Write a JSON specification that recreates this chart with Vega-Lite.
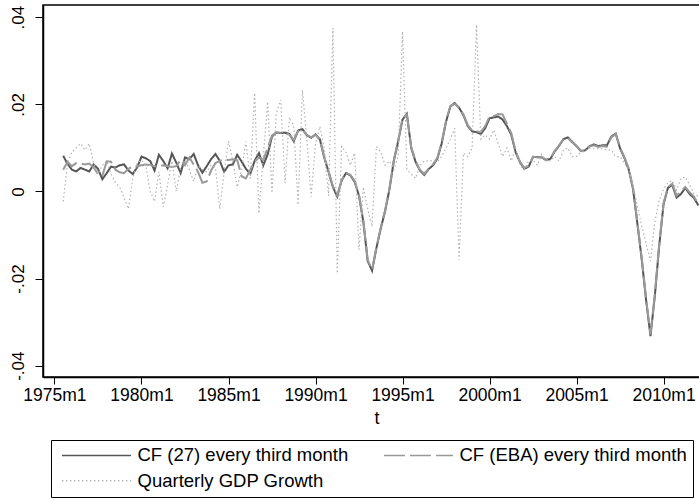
{
"$schema": "https://vega.github.io/schema/vega-lite/v6.json",
"width": 667, "height": 372,
"autosize": {"type": "none"},
"padding": {"left": 43, "top": 5, "right": 0, "bottom": 123},
"background": "white",
"config": {
  "font": "Liberation Sans",
  "view": {"stroke": "black", "strokeWidth": 1.5},
  "axis": {"grid": false, "domainColor": "black", "domainWidth": 1.5, "tickColor": "black", "tickWidth": 1, "labelColor": "black", "titleColor": "black", "labelFont": "Liberation Sans", "titleFont": "Liberation Sans", "titleFontWeight": "normal"}
},
"data": {"values": [
{"t":1975.5,"cf27":0.0082,"eba":0.0050,"gdp":-0.0023},
{"t":1975.75,"cf27":0.0063,"eba":0.0068,"gdp":0.0065},
{"t":1976,"cf27":0.0050,"eba":0.0058,"gdp":0.0090},
{"t":1976.25,"cf27":0.0046,"eba":0.0065,"gdp":0.0100},
{"t":1976.5,"cf27":0.0054,"eba":0.0064,"gdp":0.0110},
{"t":1976.75,"cf27":0.0050,"eba":0.0062,"gdp":0.0095},
{"t":1977,"cf27":0.0046,"eba":0.0064,"gdp":0.0110},
{"t":1977.25,"cf27":0.0062,"eba":0.0055,"gdp":0.0065},
{"t":1977.5,"cf27":0.0052,"eba":0.0040,"gdp":0.0040},
{"t":1977.75,"cf27":0.0028,"eba":0.0036,"gdp":0.0060},
{"t":1978,"cf27":0.0042,"eba":0.0069,"gdp":0.0070},
{"t":1978.25,"cf27":0.0057,"eba":0.0068,"gdp":0.0040},
{"t":1978.5,"cf27":0.0055,"eba":0.0050,"gdp":0.0020},
{"t":1978.75,"cf27":0.0060,"eba":0.0044,"gdp":0.0010},
{"t":1979,"cf27":0.0062,"eba":0.0042,"gdp":-0.0015},
{"t":1979.25,"cf27":0.0048,"eba":0.0052,"gdp":-0.0040},
{"t":1979.5,"cf27":0.0040,"eba":0.0058,"gdp":0.0030},
{"t":1979.75,"cf27":0.0055,"eba":0.0058,"gdp":0.0065},
{"t":1980,"cf27":0.0080,"eba":0.0060,"gdp":0.0072},
{"t":1980.25,"cf27":0.0076,"eba":0.0062,"gdp":0.0060},
{"t":1980.5,"cf27":0.0070,"eba":0.0061,"gdp":0.0000},
{"t":1980.75,"cf27":0.0048,"eba":0.0058,"gdp":-0.0023},
{"t":1981,"cf27":0.0084,"eba":0.0058,"gdp":0.0045},
{"t":1981.25,"cf27":0.0070,"eba":0.0060,"gdp":-0.0035},
{"t":1981.5,"cf27":0.0053,"eba":0.0058,"gdp":0.0015},
{"t":1981.75,"cf27":0.0087,"eba":0.0056,"gdp":0.0070},
{"t":1982,"cf27":0.0066,"eba":0.0058,"gdp":0.0000},
{"t":1982.25,"cf27":0.0042,"eba":0.0072,"gdp":0.0055},
{"t":1982.5,"cf27":0.0078,"eba":0.0060,"gdp":0.0072},
{"t":1982.75,"cf27":0.0074,"eba":0.0078,"gdp":0.0050},
{"t":1983,"cf27":0.0086,"eba":0.0062,"gdp":0.0023},
{"t":1983.25,"cf27":0.0060,"eba":0.0045,"gdp":0.0060},
{"t":1983.5,"cf27":0.0043,"eba":0.0020,"gdp":0.0050},
{"t":1983.75,"cf27":0.0058,"eba":0.0023,"gdp":0.0045},
{"t":1984,"cf27":0.0074,"eba":0.0048,"gdp":0.0060},
{"t":1984.25,"cf27":0.0086,"eba":0.0065,"gdp":0.0055},
{"t":1984.5,"cf27":0.0070,"eba":0.0070,"gdp":-0.0040},
{"t":1984.75,"cf27":0.0045,"eba":0.0074,"gdp":0.0045},
{"t":1985,"cf27":0.0060,"eba":0.0072,"gdp":0.0115},
{"t":1985.25,"cf27":0.0062,"eba":0.0074,"gdp":0.0070},
{"t":1985.5,"cf27":0.0084,"eba":0.0072,"gdp":0.0010},
{"t":1985.75,"cf27":0.0069,"eba":0.0035,"gdp":0.0050},
{"t":1986,"cf27":0.0052,"eba":0.0030,"gdp":0.0114},
{"t":1986.25,"cf27":0.0040,"eba":0.0050,"gdp":0.0030},
{"t":1986.5,"cf27":0.0070,"eba":0.0068,"gdp":0.0226},
{"t":1986.75,"cf27":0.0088,"eba":0.0078,"gdp":-0.0050},
{"t":1987,"cf27":0.0060,"eba":0.0072,"gdp":0.0080},
{"t":1987.25,"cf27":0.0085,"eba":0.0100,"gdp":0.0206},
{"t":1987.5,"cf27":0.0126,"eba":0.0128,"gdp":-0.0004},
{"t":1987.75,"cf27":0.0135,"eba":0.0136,"gdp":0.0180},
{"t":1988,"cf27":0.0134,"eba":0.0135,"gdp":0.0210},
{"t":1988.25,"cf27":0.0135,"eba":0.0134,"gdp":0.0019},
{"t":1988.5,"cf27":0.0132,"eba":0.0130,"gdp":0.0170},
{"t":1988.75,"cf27":0.0115,"eba":0.0118,"gdp":0.0150},
{"t":1989,"cf27":0.0140,"eba":0.0138,"gdp":-0.0031},
{"t":1989.25,"cf27":0.0143,"eba":0.0141,"gdp":0.0233},
{"t":1989.5,"cf27":0.0129,"eba":0.0130,"gdp":0.0120},
{"t":1989.75,"cf27":0.0123,"eba":0.0124,"gdp":-0.0012},
{"t":1990,"cf27":0.0131,"eba":0.0130,"gdp":0.0110},
{"t":1990.25,"cf27":0.0120,"eba":0.0118,"gdp":0.0149},
{"t":1990.5,"cf27":0.0078,"eba":0.0080,"gdp":0.0100},
{"t":1990.75,"cf27":0.0045,"eba":0.0046,"gdp":-0.0010},
{"t":1991,"cf27":0.0010,"eba":0.0012,"gdp":0.0375},
{"t":1991.25,"cf27":-0.0012,"eba":-0.0008,"gdp":-0.0188},
{"t":1991.5,"cf27":0.0025,"eba":0.0026,"gdp":0.0103},
{"t":1991.75,"cf27":0.0042,"eba":0.0043,"gdp":0.0090},
{"t":1992,"cf27":0.0037,"eba":0.0038,"gdp":0.0060},
{"t":1992.25,"cf27":0.0022,"eba":0.0024,"gdp":0.0088},
{"t":1992.5,"cf27":-0.0010,"eba":-0.0008,"gdp":-0.0134},
{"t":1992.75,"cf27":-0.0070,"eba":-0.0068,"gdp":0.0010},
{"t":1993,"cf27":-0.0160,"eba":-0.0158,"gdp":-0.0040},
{"t":1993.25,"cf27":-0.0182,"eba":-0.0180,"gdp":-0.0081},
{"t":1993.5,"cf27":-0.0130,"eba":-0.0128,"gdp":0.0103},
{"t":1993.75,"cf27":-0.0085,"eba":-0.0083,"gdp":0.0090},
{"t":1994,"cf27":-0.0045,"eba":-0.0043,"gdp":0.0060},
{"t":1994.25,"cf27":0.0005,"eba":0.0007,"gdp":0.0070},
{"t":1994.5,"cf27":0.0070,"eba":0.0072,"gdp":0.0050},
{"t":1994.75,"cf27":0.0115,"eba":0.0117,"gdp":0.0080},
{"t":1995,"cf27":0.0165,"eba":0.0167,"gdp":0.0367},
{"t":1995.25,"cf27":0.0178,"eba":0.0176,"gdp":0.0050},
{"t":1995.5,"cf27":0.0100,"eba":0.0102,"gdp":0.0040},
{"t":1995.75,"cf27":0.0068,"eba":0.0070,"gdp":0.0030},
{"t":1996,"cf27":0.0048,"eba":0.0050,"gdp":0.0060},
{"t":1996.25,"cf27":0.0038,"eba":0.0040,"gdp":0.0070},
{"t":1996.5,"cf27":0.0051,"eba":0.0052,"gdp":0.0070},
{"t":1996.75,"cf27":0.0060,"eba":0.0062,"gdp":0.0070},
{"t":1997,"cf27":0.0075,"eba":0.0077,"gdp":0.0068},
{"t":1997.25,"cf27":0.0110,"eba":0.0112,"gdp":0.0080},
{"t":1997.5,"cf27":0.0160,"eba":0.0162,"gdp":0.0100},
{"t":1997.75,"cf27":0.0195,"eba":0.0196,"gdp":0.0120},
{"t":1998,"cf27":0.0203,"eba":0.0201,"gdp":0.0145},
{"t":1998.25,"cf27":0.0192,"eba":0.0192,"gdp":-0.0157},
{"t":1998.5,"cf27":0.0175,"eba":0.0177,"gdp":0.0088},
{"t":1998.75,"cf27":0.0150,"eba":0.0152,"gdp":0.0080},
{"t":1999,"cf27":0.0138,"eba":0.0140,"gdp":0.0100},
{"t":1999.25,"cf27":0.0136,"eba":0.0138,"gdp":0.0383},
{"t":1999.5,"cf27":0.0132,"eba":0.0136,"gdp":0.0120},
{"t":1999.75,"cf27":0.0145,"eba":0.0150,"gdp":0.0130},
{"t":2000,"cf27":0.0168,"eba":0.0172,"gdp":0.0120},
{"t":2000.25,"cf27":0.0170,"eba":0.0173,"gdp":0.0141},
{"t":2000.5,"cf27":0.0172,"eba":0.0178,"gdp":0.0110},
{"t":2000.75,"cf27":0.0165,"eba":0.0177,"gdp":0.0080},
{"t":2001,"cf27":0.0150,"eba":0.0155,"gdp":0.0100},
{"t":2001.25,"cf27":0.0130,"eba":0.0134,"gdp":0.0070},
{"t":2001.5,"cf27":0.0090,"eba":0.0093,"gdp":0.0100},
{"t":2001.75,"cf27":0.0067,"eba":0.0068,"gdp":0.0060},
{"t":2002,"cf27":0.0052,"eba":0.0054,"gdp":0.0050},
{"t":2002.25,"cf27":0.0057,"eba":0.0059,"gdp":0.0070},
{"t":2002.5,"cf27":0.0079,"eba":0.0080,"gdp":0.0072},
{"t":2002.75,"cf27":0.0079,"eba":0.0078,"gdp":0.0060},
{"t":2003,"cf27":0.0078,"eba":0.0079,"gdp":0.0085},
{"t":2003.25,"cf27":0.0072,"eba":0.0073,"gdp":0.0070},
{"t":2003.5,"cf27":0.0075,"eba":0.0076,"gdp":0.0070},
{"t":2003.75,"cf27":0.0092,"eba":0.0093,"gdp":0.0080},
{"t":2004,"cf27":0.0105,"eba":0.0106,"gdp":0.0070},
{"t":2004.25,"cf27":0.0120,"eba":0.0120,"gdp":0.0095},
{"t":2004.5,"cf27":0.0124,"eba":0.0123,"gdp":0.0100},
{"t":2004.75,"cf27":0.0114,"eba":0.0113,"gdp":0.0080},
{"t":2005,"cf27":0.0104,"eba":0.0104,"gdp":0.0080},
{"t":2005.25,"cf27":0.0093,"eba":0.0093,"gdp":0.0090},
{"t":2005.5,"cf27":0.0094,"eba":0.0094,"gdp":0.0092},
{"t":2005.75,"cf27":0.0104,"eba":0.0103,"gdp":0.0100},
{"t":2006,"cf27":0.0108,"eba":0.0106,"gdp":0.0098},
{"t":2006.25,"cf27":0.0104,"eba":0.0102,"gdp":0.0098},
{"t":2006.5,"cf27":0.0106,"eba":0.0104,"gdp":0.0098},
{"t":2006.75,"cf27":0.0106,"eba":0.0103,"gdp":0.0095},
{"t":2007,"cf27":0.0126,"eba":0.0124,"gdp":0.0095},
{"t":2007.25,"cf27":0.0133,"eba":0.0132,"gdp":0.0080},
{"t":2007.5,"cf27":0.0099,"eba":0.0101,"gdp":0.0080},
{"t":2007.75,"cf27":0.0077,"eba":0.0079,"gdp":0.0065},
{"t":2008,"cf27":0.0050,"eba":0.0053,"gdp":0.0050},
{"t":2008.25,"cf27":0.0005,"eba":0.0008,"gdp":0.0015},
{"t":2008.5,"cf27":-0.0075,"eba":-0.0072,"gdp":-0.0035},
{"t":2008.75,"cf27":-0.0157,"eba":-0.0154,"gdp":-0.0080},
{"t":2009,"cf27":-0.0250,"eba":-0.0247,"gdp":-0.0120},
{"t":2009.25,"cf27":-0.0332,"eba":-0.0328,"gdp":-0.0160},
{"t":2009.5,"cf27":-0.0240,"eba":-0.0236,"gdp":-0.0070},
{"t":2009.75,"cf27":-0.0125,"eba":-0.0122,"gdp":-0.0020},
{"t":2010,"cf27":-0.0030,"eba":-0.0027,"gdp":0.0005},
{"t":2010.25,"cf27":0.0008,"eba":0.0010,"gdp":0.0020},
{"t":2010.5,"cf27":0.0015,"eba":0.0018,"gdp":0.0025},
{"t":2010.75,"cf27":-0.0014,"eba":-0.0010,"gdp":0.0003},
{"t":2011,"cf27":-0.0006,"eba":0.0000,"gdp":0.0030},
{"t":2011.25,"cf27":0.0008,"eba":0.0010,"gdp":0.0033},
{"t":2011.5,"cf27":-0.0006,"eba":-0.0002,"gdp":0.0015},
{"t":2011.75,"cf27":-0.0015,"eba":-0.0012,"gdp":-0.0005},
{"t":2012,"cf27":-0.0032,"eba":-0.0030,"gdp":-0.0012}
]},
"transform": [{"fold": ["cf27", "eba", "gdp"], "as": ["s", "v"]}],
"encoding": {
  "x": {"field": "t", "type": "quantitative",
        "scale": {"domain": [1974.34, 2012.67], "nice": false, "zero": false},
        "axis": {"values": [1975, 1980, 1985, 1990, 1995, 2000, 2005, 2010], "labelExpr": "datum.value + 'm1'", "title": "t",
                 "labelFontSize": 17.5, "titleFontSize": 18, "tickSize": 7, "labelPadding": 2, "titlePadding": 6, "labelFlush": false, "labelOverlap": false}},
  "y": {"field": "v", "type": "quantitative",
        "scale": {"domain": [-0.0426, 0.0428], "nice": false, "zero": false},
        "axis": {"values": [-0.04, -0.02, 0, 0.02, 0.04], "title": null,
                 "labelExpr": "datum.value > 0.001 ? replace(format(datum.value, '.2f'), '0.', '.') : (datum.value < -0.001 ? '-' + replace(format(-datum.value, '.2f'), '0.', '.') : '0')",
                 "labelAngle": -90, "labelAlign": "center", "labelBaseline": "bottom", "labelFontSize": 17, "tickSize": 8, "labelPadding": 8, "labelOverlap": false}},
  "color": {"field": "s", "type": "nominal",
            "scale": {"domain": ["cf27", "eba", "gdp"], "range": ["#555555", "#999999", "#b3b3b3"]},
            "legend": {"title": null, "orient": "none", "legendX": 8, "legendY": 435, "direction": "horizontal", "columns": 2,
                       "columnPadding": 30, "rowPadding": 6.5, "padding": 6, "strokeColor": "black", "fillColor": "white",
                       "symbolType": "M-1,0H15", "symbolSize": 74.4, "symbolStrokeWidth": 1.5, "labelOffset": 62,
                       "labelFontSize": 18.5, "labelFont": "Liberation Sans", "labelColor": "black", "labelLimit": 400,
                       "labelExpr": "datum.value == 'cf27' ? 'CF (27) every third month' : (datum.value == 'eba' ? 'CF (EBA) every third month' : 'Quarterly GDP Growth')"}},
  "strokeDash": {"field": "s", "type": "nominal",
                 "scale": {"domain": ["cf27", "eba", "gdp"], "range": [[1, 0], [21, 5], [1.5, 2.5]]},
                 "legend": {"title": null, "orient": "none", "legendX": 8, "legendY": 435, "direction": "horizontal", "columns": 2,
                       "columnPadding": 30, "rowPadding": 6.5, "padding": 6, "strokeColor": "black", "fillColor": "white",
                       "symbolType": "M-1,0H15", "symbolSize": 74.4, "symbolStrokeWidth": 1.5, "labelOffset": 62,
                       "labelFontSize": 18.5, "labelFont": "Liberation Sans", "labelColor": "black", "labelLimit": 400,
                       "labelExpr": "datum.value == 'cf27' ? 'CF (27) every third month' : (datum.value == 'eba' ? 'CF (EBA) every third month' : 'Quarterly GDP Growth')"}}
},
"layer": [
  {"transform": [{"filter": "datum.s != 'gdp'"}], "mark": {"type": "line", "strokeWidth": 2}},
  {"transform": [{"filter": "datum.s == 'gdp'"}], "mark": {"type": "line", "strokeWidth": 1.2}}
]
}
